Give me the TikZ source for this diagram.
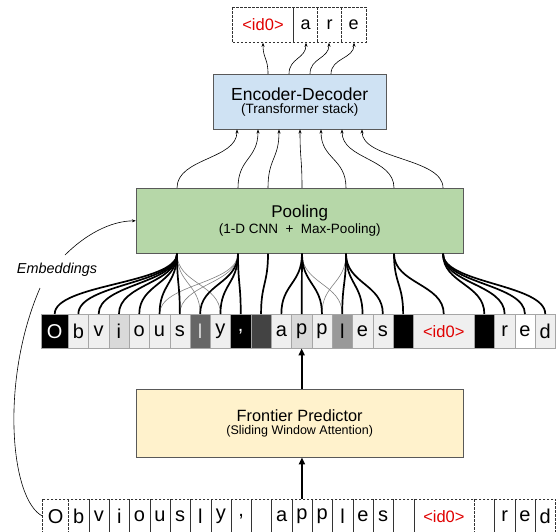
\documentclass[tikz,border=0pt]{standalone}
\usepackage{fontspec}
\setmainfont{Liberation Sans}
\usetikzlibrary{positioning, calc, arrows.meta}

\definecolor{encblue}{HTML}{CFE2F3}
\definecolor{poolgreen}{HTML}{B6D7A8}
\definecolor{frontyellow}{HTML}{FFF2CC}
\definecolor{boxline}{HTML}{595959}
\definecolor{celllight}{HTML}{EFEFEF}
\definecolor{cellmid}{HTML}{D9D9D9}
\definecolor{cellgray}{HTML}{999999}
\definecolor{celldark}{HTML}{666666}
\definecolor{cellblack}{HTML}{434343}
\definecolor{tokred}{HTML}{E00000}

\newcommand{\idtok}{\textcolor{tokred}{\fontsize{16.5}{20}\selectfont <id0>}}

\begin{document}
\begin{tikzpicture}[x=1pt, y=-1pt,
    block/.style={draw=boxline, line width=0.8pt, minimum width=327pt, inner sep=0pt, align=center},
    tok/.style={anchor=north west, minimum height=34pt, inner sep=0pt, font=\fontsize{20}{24}\selectfont},
    outtok/.style={anchor=north west, minimum height=35pt, inner sep=0pt, font=\fontsize{18}{22}\selectfont},
    link/.style={-{Stealth[length=4pt,width=3pt]}, line width=0.6pt},
    group/.style={line width=1.7pt},
    overlap/.style={line width=0.6pt, draw=gray},
    bigarrow/.style={-{Triangle[length=7pt,width=6pt]}, line width=1.8pt},
    sep/.style={line width=0.6pt, draw=black!80},
    dashline/.style={dash pattern=on 2.5pt off 1.5pt}]

    \useasboundingbox (0,0) rectangle (556,531);

    % Boxes
    \node[block, fill=encblue, minimum width=172.7pt, minimum height=54.7pt] (enc) at (299.7,101.7)
        {{\fontsize{17.5}{20}\selectfont Encoder-Decoder}\\[1pt]{\fontsize{13.5}{16}\selectfont (Transformer stack)}};
    \node[block, fill=poolgreen, minimum height=65pt] (pool) at (299.7,220.8)
        {{\fontsize{17}{20}\selectfont Pooling}\\[1pt]{\fontsize{13.5}{16}\selectfont (1-D CNN~~+~~Max-Pooling)}};
    \node[block, fill=frontyellow, minimum height=68pt] (front) at (299.7,423)
        {{\fontsize{16.3}{20}\selectfont Frontier Predictor}\\[1pt]{\fontsize{12.5}{16}\selectfont (Sliding Window Attention)}};

    % Output tokens
    \foreach \i/\x/\w/\t in {1/232.3/61/{\idtok}, 2/293.3/24/a, 3/317.3/24/r, 4/341.3/24.3/e}
        \node[outtok, minimum width=\w pt] (t\i) at (\x,7.3) {\t};
    \draw[sep, dashline] (t1.north west) rectangle (t4.south east);
    \draw[sep] (t1.north east) -- (t1.south east);
    \draw[sep, dashline] (t2.north east) -- (t2.south east);
    \draw[sep, dashline] (t3.north east) -- (t3.south east);

    % Patch embeddings
    \foreach \i/\x/\w/\c/\t in {
        1/41/27/black/{\color{white}O}, 2/68/20.3/celllight/b, 3/88.3/20.3/celllight/v,
        4/108.6/20.3/cellmid/i, 5/128.9/20.3/celllight/o, 6/149.2/20.3/celllight/u,
        7/169.5/20.3/celllight/s, 8/189.8/20.3/celldark/{\color{cellmid}l}, 9/210.1/20.3/celllight/y,
        10/230.4/20.3/black/{\color{white},}, 11/250.7/20.3/cellblack/{}, 12/271/20.3/celllight/a,
        13/291.3/20.3/cellmid/p, 14/311.6/20.3/celllight/p, 15/331.9/20.3/cellgray/l,
        16/352.2/20.3/celllight/e, 17/372.5/20.3/celllight/s, 18/392.8/20.3/black/{},
        19/413.1/60.9/celllight/{\idtok}, 20/474/20.3/black/{}, 21/494.3/20.3/celllight/r,
        22/514.6/20.3/white/e, 23/534.9/20.3/celllight/d}
        \node[tok, draw=gray!70, fill=\c, minimum width=\w pt] (m\i) at (\x,314) {\t};

    % Input text
    \foreach \i/\x/\w/\t in {
        1/42.7/25.6/O, 2/68.3/20.3/b, 3/88.6/20.3/v, 4/108.9/20.3/i, 5/129.2/20.3/o,
        6/149.5/20.3/u, 7/169.8/20.3/s, 8/190.1/20.3/l, 9/210.4/20.3/y, 10/230.7/20.3/{,},
        11/251/20.3/{}, 12/271.3/20.3/a, 13/291.6/20.3/p, 14/311.9/20.3/p, 15/332.2/20.3/l,
        16/352.5/20.3/e, 17/372.8/20.3/s, 18/393.1/20.3/{}, 19/413.4/60.6/{\idtok},
        20/474/20.3/{}, 21/494.3/20.3/r, 22/514.6/20.3/e, 23/534.9/20.3/d}
        \node[tok, minimum width=\w pt] (b\i) at (\x,499) {\t};
    \draw[sep, dashline] (b1.north west) rectangle (b23.south east);
    \foreach \i in {2,...,18,20,21,22}
        \draw[sep] (b\i.north east) -- (b\i.south east);
    \draw[sep, dashline] (b1.north east) -- (b1.south east);
    \draw[sep, dashline] (b19.north east) -- (b19.south east);

    % Pooling ports
    \foreach \k/\x in {1/177, 2/238, 3/268, 4/302, 5/346, 6/394, 7/443} {
        \coordinate (pt\k) at (pool.north -| \x,0);
        \coordinate (pb\k) at (pool.south -| \x,0);
    }

    % Patches into pooling
    \foreach \k/\i in {1/8, 1/9, 2/6, 2/7, 4/15, 5/14}
        \draw[overlap] (pb\k) .. controls +(0,30) and +(0,-30) .. (m\i.north);
    \foreach \k/\i in {1/1, 1/2, 1/3, 1/4, 1/5, 1/6, 1/7, 2/8, 2/9, 2/10, 3/11, 4/12, 4/13, 4/14,
                       5/15, 5/16, 5/17, 6/18, 6/19, 7/20, 7/21, 7/22, 7/23}
        \draw[group] (pb\k) .. controls +(0,30) and +(0,-30) .. (m\i.north);

    % Pooling to encoder-decoder
    \foreach \k/\x in {1/237, 2/258, 3/279, 4/300, 5/321, 6/342, 7/362}
        \draw[link] (pt\k) .. controls +(0,-30) and +(0,30) .. (enc.south -| \x,0);

    % Encoder-decoder to outputs
    \foreach \s/\e/\i in {268/263/1, 289/306/2, 310/329/3, 331/354/4}
        \draw[link] (enc.north -| \s,0) .. controls +(0,-16) and +(0,16) .. (t\i.south -| \e,0);

    % Embeddings
    \node[font=\itshape\fontsize{14.4}{16}\selectfont] (emb) at (57,270) {Embeddings};
    \coordinate (embin) at (40,288);
    \coordinate (embout) at (65,255);
    \draw[line width=0.6pt] (b1.west) .. controls (10,500) and (0,380) .. (embin);
    \draw[link] (embout) .. controls (85,235) and (110,221) .. (pool.west);

    % Frontier predictor
    \draw[bigarrow] (b13.north) -- (b13.north |- front.south);
    \draw[bigarrow] (front.north -| m13) -- (m13.south);
\end{tikzpicture}
\end{document}
